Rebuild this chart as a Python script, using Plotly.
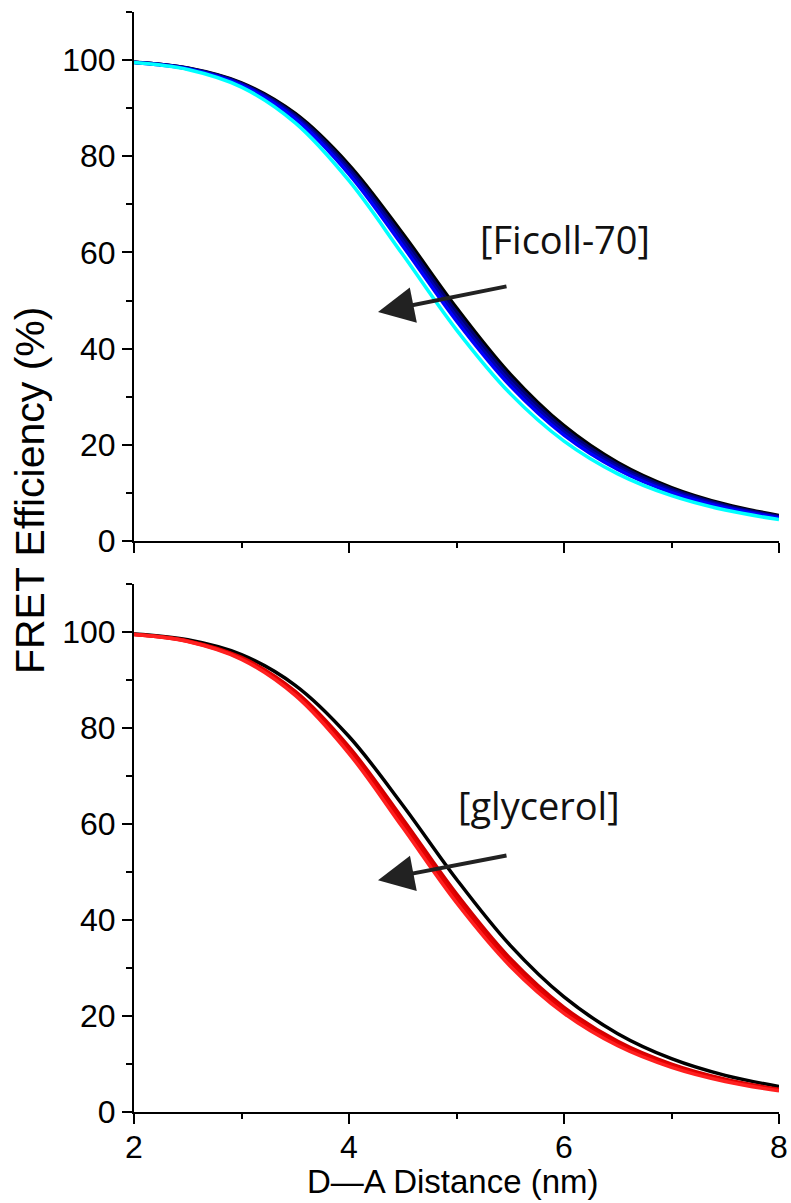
import plotly.graph_objects as go
from plotly.subplots import make_subplots

distance = [2.0, 2.5, 3.0, 3.5, 4.0, 4.5, 5.0, 5.5, 6.0, 6.5, 7.0, 7.5, 8.0]

# Top panel (Ficoll-70 series)
ficoll_black = [99.567, 98.367, 95.278, 88.892, 78.221, 63.919, 48.494, 34.702, 23.972, 16.322, 11.114, 7.634, 5.315]
ficoll_navy = [99.551, 98.308, 95.112, 88.527, 77.593, 63.074, 47.583, 33.880, 23.313, 15.830, 10.759, 7.381, 5.133]
ficoll_mblue = [99.534, 98.246, 94.938, 88.147, 76.948, 62.214, 46.666, 33.061, 22.661, 15.347, 10.408, 7.133, 4.956]
ficoll_blue = [99.517, 98.181, 94.758, 87.758, 76.287, 61.343, 45.751, 32.251, 22.023, 14.873, 10.072, 6.894, 4.786]
ficoll_cyan = [99.479, 98.043, 94.375, 86.934, 74.913, 59.562, 43.906, 30.645, 20.768, 13.954, 9.420, 6.429, 4.459]

# Bottom panel (glycerol series)
glyc_black = [99.567, 98.367, 95.278, 88.892, 78.221, 63.919, 48.494, 34.702, 23.972, 16.322, 11.114, 7.634, 5.315]
glyc_dred = [99.511, 98.159, 94.696, 87.625, 76.063, 61.050, 45.444, 31.977, 21.812, 14.720, 9.962, 6.814, 4.730]
glyc_red = [99.492, 98.090, 94.506, 87.217, 75.380, 60.162, 44.523, 31.178, 21.186, 14.255, 9.630, 6.580, 4.566]
glyc_bred = [99.473, 98.019, 94.308, 86.790, 74.676, 59.261, 43.600, 30.379, 20.565, 13.804, 9.311, 6.355, 4.405]

y_ticks = [0, 20, 40, 60, 80, 100]
x_ticks = [2, 4, 6, 8]

fig = make_subplots(rows=2, cols=1, shared_xaxes=False, vertical_spacing=0.0)

top_series = [(ficoll_black, "#000000"), (ficoll_navy, "#000070"), (ficoll_mblue, "#0000b0"),
              (ficoll_blue, "#0000ff"), (ficoll_cyan, "#00ffff")]
bot_series = [(glyc_black, "#000000"), (glyc_dred, "#d00000"), (glyc_red, "#e80000"),
              (glyc_bred, "#ff2020")]

for vals, col in top_series:
    fig.add_trace(go.Scatter(x=distance, y=vals, mode="lines",
                             line=dict(color=col, width=3.5, shape="spline", smoothing=1.0),
                             showlegend=False, hoverinfo="skip"), row=1, col=1)
for vals, col in bot_series:
    fig.add_trace(go.Scatter(x=distance, y=vals, mode="lines",
                             line=dict(color=col, width=3.5, shape="spline", smoothing=1.0),
                             showlegend=False, hoverinfo="skip"), row=2, col=1)

tickfont = dict(family="Liberation Sans, Arial, sans-serif", size=32, color="#000")
axis_common = dict(showline=True, linecolor="#000", linewidth=2, showgrid=False, zeroline=False,
                   ticks="outside", ticklen=10, tickwidth=2, tickcolor="#000", mirror=False,
                   automargin=False)

fig.update_xaxes(range=[2, 8], tickvals=x_ticks, tickfont=tickfont, ticklabelstandoff=-4,
                 minor=dict(ticks="outside", ticklen=5, tickwidth=2, tickcolor="#000", dtick=1, showgrid=False),
                 **axis_common)
fig.update_xaxes(showticklabels=False, row=1, col=1)
fig.update_yaxes(range=[0, 110], tickvals=y_ticks, tickfont=tickfont,
                 minor=dict(ticks="outside", ticklen=6, tickwidth=2, tickcolor="#000", dtick=10, showgrid=False),
                 **axis_common)

fig.update_layout(
    width=791, height=1203,
    margin=dict(l=134, r=12, t=12, b=91),
    paper_bgcolor="white", plot_bgcolor="white",
    yaxis=dict(domain=[0.5191, 1.0]),
    yaxis2=dict(domain=[0.0, 0.48]),
)

fig.add_annotation(text="D\u2014A Distance (nm)", xref="paper", yref="paper",
                   x=0.494, y=-0.0636, showarrow=False,
                   font=dict(family="Liberation Sans, Arial, sans-serif", size=33, color="#000"),
                   xanchor="center", yanchor="middle")

fig.add_annotation(text="FRET Efficiency (%)", xref="paper", yref="paper",
                   x=-0.161, y=0.5655, textangle=-90, showarrow=False,
                   font=dict(family="Liberation Sans, Arial, sans-serif", size=41, color="#000"),
                   xanchor="center", yanchor="middle")

labfont = dict(family="Open Sans, sans-serif", size=38, color="#111")
fig.add_annotation(text="[Ficoll-70]", x=6.01, y=62.8, xref="x", yref="y",
                   showarrow=False, font=labfont)
fig.add_annotation(text="[glycerol]", x=5.77, y=64.0, xref="x2", yref="y2",
                   showarrow=False, font=labfont)

fig.add_annotation(x=4.27, y=47.6, ax=5.479, ay=53.0, xref="x", yref="y", axref="x", ayref="y",
                   text="", showarrow=True, arrowhead=2, arrowsize=1.8, arrowwidth=4, arrowcolor="#222")
fig.add_annotation(x=4.27, y=48.3, ax=5.479, ay=53.5, xref="x2", yref="y2", axref="x2", ayref="y2",
                   text="", showarrow=True, arrowhead=2, arrowsize=1.8, arrowwidth=4, arrowcolor="#222")

# remove the default 8px page margin so the figure fills the window exactly
fig.write_html("out.html", config={"displayModeBar": False},
               post_script="document.body.style.margin='0';document.body.style.overflow='hidden';")
